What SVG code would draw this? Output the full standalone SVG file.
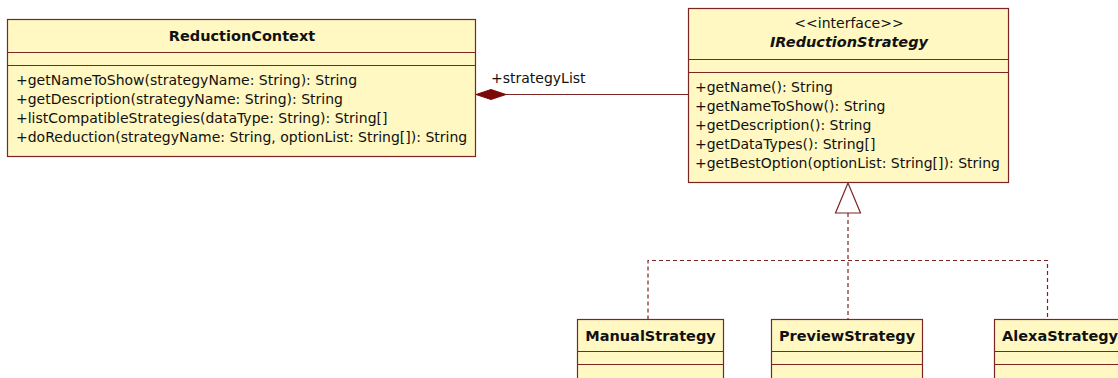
<svg xmlns="http://www.w3.org/2000/svg" width="1118" height="378" viewBox="0 0 1118 378">
  <style>
    .box { fill: #fff8c2; stroke: #7b2525; stroke-width: 1.2; }
    .sep { stroke: #7b2525; stroke-width: 1.2; }
    .t { font-family: "DejaVu Sans", Verdana, sans-serif; font-size: 14px; fill: #111; }
    .title { font-family: "DejaVu Sans", Verdana, sans-serif; font-size: 14.5px; font-weight: bold; fill: #111; }
    .mid { text-anchor: middle; }
    .conn { stroke: #7b2525; stroke-width: 1.2; fill: none; }
    .dash { stroke: #7b2525; stroke-width: 1.2; fill: none; stroke-dasharray: 4 3; }
  </style>

  <!-- connectors -->
  <g id="connectors">
    <!-- composition: ReductionContext owns strategyList -->
    <line class="conn" x1="506" y1="94.5" x2="688.5" y2="94.5"/>
    <polygon points="476,94.5 491,89.5 506,94.5 491,99.5" fill="#7a0a0a" stroke="#7a0a0a" stroke-width="1"/>
    <text class="t" x="491" y="83">+strategyList</text>
    <!-- realization of IReductionStrategy -->
    <polygon points="848,183 835.5,213 860.5,213" fill="#ffffff" stroke="#7b2525" stroke-width="1.2"/>
    <line class="dash" x1="848" y1="213" x2="848" y2="319.5"/>
    <polyline class="dash" points="648,319.5 648,260.5 1047.5,260.5 1047.5,319.5"/>
  </g>

  <!-- ReductionContext -->
  <g id="ReductionContext">
    <rect class="box" x="7.5" y="19.5" width="468" height="137"/>
    <line class="sep" x1="7.5" y1="52.5" x2="475.5" y2="52.5"/>
    <line class="sep" x1="7.5" y1="65.5" x2="475.5" y2="65.5"/>
    <text class="title mid" x="242" y="40.5">ReductionContext</text>
    <text class="t" x="16" y="84.5">+getNameToShow(strategyName: String): String</text>
    <text class="t" x="16" y="103.5">+getDescription(strategyName: String): String</text>
    <text class="t" x="16" y="122.5">+listCompatibleStrategies(dataType: String): String[]</text>
    <text class="t" x="16" y="141.5">+doReduction(strategyName: String, optionList: String[]): String</text>
  </g>

  <!-- IReductionStrategy -->
  <g id="IReductionStrategy">
    <rect class="box" x="688.5" y="8.5" width="320" height="174"/>
    <line class="sep" x1="688.5" y1="59.5" x2="1008.5" y2="59.5"/>
    <line class="sep" x1="688.5" y1="72.5" x2="1008.5" y2="72.5"/>
    <text class="t mid" x="849" y="28">&lt;&lt;interface&gt;&gt;</text>
    <text class="title mid" x="849" y="46.5" font-style="italic" font-size="15">IReductionStrategy</text>
    <text class="t" x="695" y="92">+getName(): String</text>
    <text class="t" x="695" y="111">+getNameToShow(): String</text>
    <text class="t" x="695" y="130">+getDescription(): String</text>
    <text class="t" x="695" y="149">+getDataTypes(): String[]</text>
    <text class="t" x="695" y="168">+getBestOption(optionList: String[]): String</text>
  </g>

  <!-- ManualStrategy -->
  <g id="ManualStrategy">
    <rect class="box" x="577.5" y="319.5" width="146" height="70"/>
    <line class="sep" x1="577.5" y1="351.5" x2="723.5" y2="351.5"/>
    <line class="sep" x1="577.5" y1="364.5" x2="723.5" y2="364.5"/>
    <text class="title mid" x="650.5" y="340.5">ManualStrategy</text>
  </g>

  <!-- PreviewStrategy -->
  <g id="PreviewStrategy">
    <rect class="box" x="771.5" y="319.5" width="151" height="70"/>
    <line class="sep" x1="771.5" y1="351.5" x2="922.5" y2="351.5"/>
    <line class="sep" x1="771.5" y1="364.5" x2="922.5" y2="364.5"/>
    <text class="title mid" x="847" y="340.5">PreviewStrategy</text>
  </g>

  <!-- AlexaStrategy -->
  <g id="AlexaStrategy">
    <rect class="box" x="994.5" y="319.5" width="140" height="70"/>
    <line class="sep" x1="994.5" y1="351.5" x2="1134.5" y2="351.5"/>
    <line class="sep" x1="994.5" y1="364.5" x2="1134.5" y2="364.5"/>
    <text class="title" x="1002" y="340.5">AlexaStrategy</text>
  </g>
</svg>
